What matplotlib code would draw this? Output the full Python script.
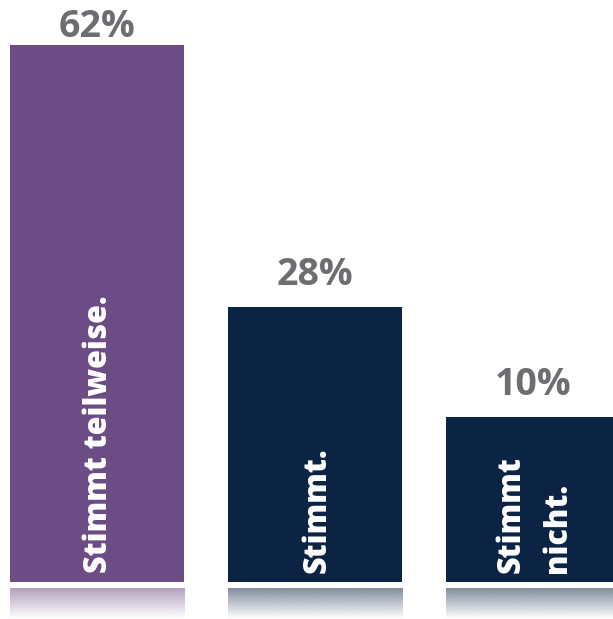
import matplotlib.pyplot as plt
import numpy as np
from matplotlib.colors import to_rgb

# answer shares (labels above the bars)
answers = ["Stimmt teilweise.", "Stimmt.", "Stimmt\nnicht."]
shares = [62, 28, 10]
# bar lengths as drawn in the graphic (same units as the 62 % bar)
bar_heights = [62, 31.8, 19.0]
colors = ["#6B4C84", "#0C2444", "#0C2444"]

W, H, DPI = 613, 619, 100
PX = 8.66  # pixels per data unit in y
fig = plt.figure(figsize=(W / DPI, H / DPI), dpi=DPI)
ax = fig.add_axes([0, 0, 1, 1])
ax.set_axis_off()

x = np.arange(len(shares))
width = 0.8
ax.set_xlim(-0.445, -0.445 + W / 218)
ax.set_ylim(-37 / PX, (H - 37) / PX)

ax.bar(x, bar_heights, width=width, color=colors, zorder=2)

# reflections under the bars
for xi, c in zip(x, colors):
    r, g, b = to_rgb(c)
    grad = np.zeros((64, 2, 4))
    grad[..., 0], grad[..., 1], grad[..., 2] = r, g, b
    grad[..., 3] = np.linspace(0.52, 0.0, 64)[:, None]
    ax.imshow(grad, extent=(xi - width / 2, xi + width / 2, -37 / PX, -6 / PX),
              aspect="auto", interpolation="bilinear", zorder=1)

font = "Open Sans"
top_limit = (582 - 37) / PX  # keep the tallest label inside the picture
for xi, h, s in zip(x, bar_heights, shares):
    ax.text(xi, min(h + 22 / PX, top_limit), f"{s}%", ha="center", va="baseline",
            fontsize=27, fontweight="bold", color="#6D6E71", family=font)

for xi, lab in zip(x, answers):
    ax.text(xi + 0.01, 9 / PX, lab, rotation=90, rotation_mode="anchor",
            ha="left", va="center", multialignment="left", linespacing=1.6,
            fontsize=22, fontweight=800, color="white", family=font, zorder=3)

fig.savefig("out.png", dpi=DPI)
plt.close(fig)
